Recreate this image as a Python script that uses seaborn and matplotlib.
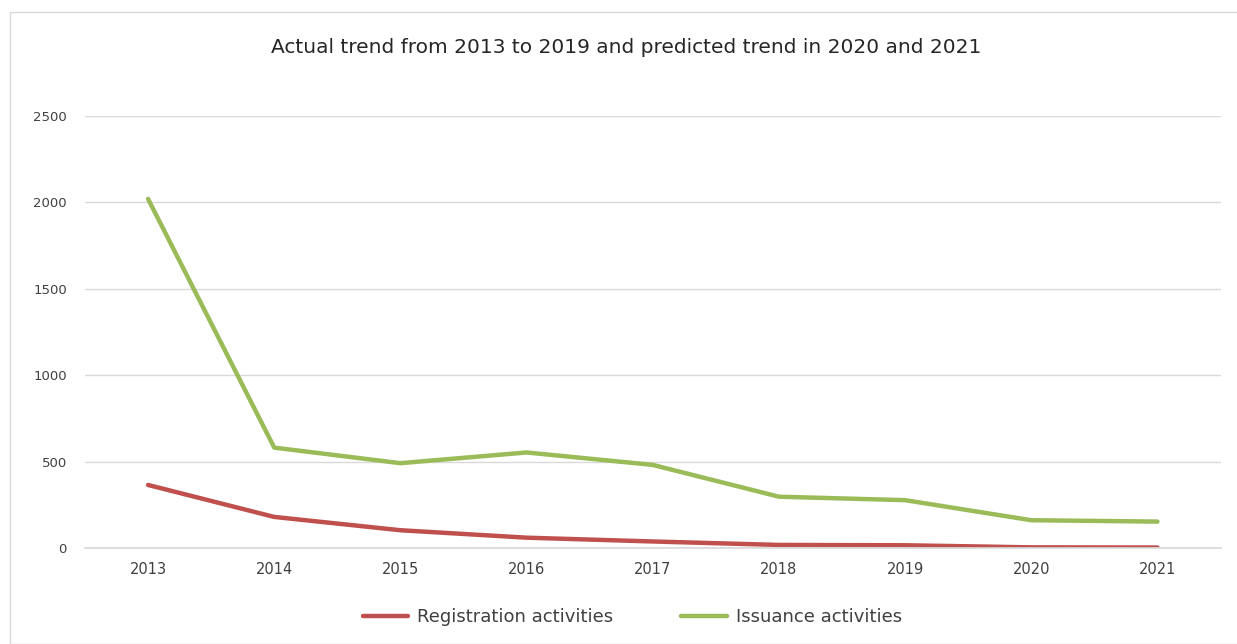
import matplotlib
matplotlib.use("Agg")
import matplotlib.pyplot as plt
import seaborn as sns
import pandas as pd
from matplotlib.patches import Rectangle

years = ["2013", "2014", "2015", "2016", "2017", "2018", "2019", "2020", "2021"]
registration = [365, 180, 103, 60, 38, 18, 16, 4, 3]
issuance = [2020, 581, 491, 553, 481, 297, 277, 161, 153]
series_names = ["Registration activities", "Issuance activities"]
yticks = [0, 500, 1000, 1500, 2000, 2500]
title = "Actual trend from 2013 to 2019 and predicted trend in 2020 and 2021"

df = pd.DataFrame({
    "year": years * 2,
    "value": registration + issuance,
    "series": [series_names[0]] * len(years) + [series_names[1]] * len(years),
})

sns.set_theme(style="white")
plt.rcParams["font.family"] = ["DejaVu Sans"]

fig = plt.figure(figsize=(12.37, 6.44), dpi=100)
ax = fig.add_axes([0.0687, 0.149, 0.918, 0.671])

palette = {series_names[0]: "#C0504D", series_names[1]: "#9BBB59"}
sns.lineplot(data=df, x="year", y="value", hue="series", palette=palette,
             linewidth=3.2, ax=ax, sort=False, legend=True)

ax.set_xlim(-0.5, len(years) - 0.5)
ax.set_ylim(0, 2500)
ax.set_yticks(yticks)
ax.set_yticklabels([str(t) for t in yticks], fontsize=9.5, color="#404040")
ax.tick_params(axis="x", labelsize=10.5, labelcolor="#404040", length=0, pad=10)
ax.tick_params(axis="y", length=0, pad=13)
ax.yaxis.grid(True, color="#D9D9D9", linewidth=1)
ax.set_axisbelow(True)
for s in ["top", "right", "left"]:
    ax.spines[s].set_visible(False)
ax.spines["bottom"].set_color("#D9D9D9")
ax.set_xlabel("")
ax.set_ylabel("")

leg = ax.legend(loc="center", bbox_to_anchor=(0.511, 0.042), bbox_transform=fig.transFigure,
                ncol=2, frameon=False, fontsize=13, handlelength=2.5, columnspacing=3.8,
                handletextpad=0.5)
for t in leg.get_texts():
    t.set_color("#404040")

fig.text(0.506, 0.927, title, ha="center", va="center", fontsize=14.5, color="#262626")

fig.patches.append(Rectangle((10 / 1237, 0), 1.2, (644 - 12) / 644, transform=fig.transFigure,
                             fill=False, edgecolor="#D9D9D9", linewidth=1))

fig.savefig("out.png", dpi=100, facecolor="white")
